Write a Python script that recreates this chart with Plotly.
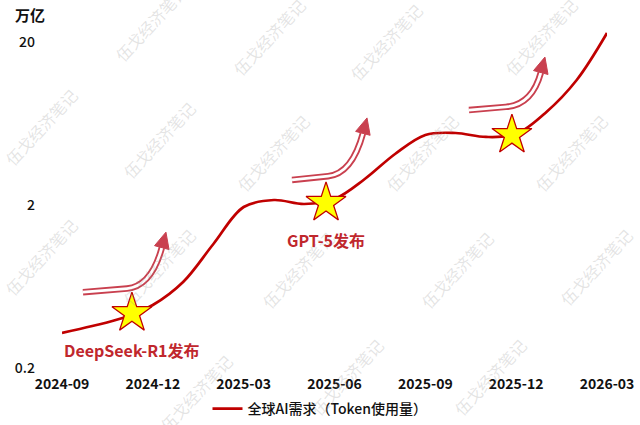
import math
import plotly.graph_objects as go

# ---- data ----
months = ["2024-09", "2024-10", "2024-11", "2024-12", "2025-01", "2025-02", "2025-03",
          "2025-04", "2025-05", "2025-06", "2025-07", "2025-08", "2025-09", "2025-10",
          "2025-11", "2025-12", "2026-01", "2026-02", "2026-03"]
demand = [0.328, 0.362, 0.405, 0.487, 0.674, 1.153, 1.944, 2.146, 2.029, 2.176,
          2.887, 4.11, 5.38, 5.53, 5.23, 5.45, 7.44, 11.69, 22.7]
event_names = ["DeepSeek-R1发布", "GPT-5发布", ""]
event_pos = [2.31, 8.72, 14.86]          # position in months from 2024-09
event_vals = [0.434, 2.06, 5.37]
tick_labels = ["2024-09", "2024-12", "2025-03", "2025-06", "2025-09", "2025-12", "2026-03"]
y_ticks = [0.2, 2, 20]
series_name = "全球AI需求（Token使用量）"
unit = "万亿"
watermark = "伍戈经济笔记"

RED = "#C00000"
ARROW = "#C9404F"
FONT = "Noto Sans CJK SC"

W, H = 640, 425
ML, MR, MT, MB = 62, 33, 20, 57
PW, PH = W - ML - MR, H - MT - MB
PL, PB = ML, H - MB          # pixel of plot left / bottom
YMIN = math.log10(0.2)
YMAX = math.log10(20) + 22 / 163

x_idx = list(range(len(months)))
tick_idx = [months.index(t) for t in tick_labels]


def px2paper(px, py):
    return (px - PL) / PW, (PB - py) / PH


fig = go.Figure()

# watermarks (paper coordinates from pixel positions)
wm_px = [(151, 23), (269, 37), (386, 42), (541, 37),
         (41, 127), (159, 140), (273, 153), (422, 153), (571, 153),
         (41, 257), (159, 267), (298, 270), (457, 270), (596, 267),
         (196, 393), (347, 377), (490, 377)]
for (px, py) in wm_px:
    xx, yy = px2paper(px, py)
    fig.add_annotation(x=xx, y=yy, xref="paper", yref="paper", xanchor="center", yanchor="middle",
                       text=watermark, showarrow=False, textangle=-47,
                       font=dict(family=FONT, size=16, color="rgba(150,150,150,0.26)"))

fig.add_trace(go.Scatter(
    x=x_idx, y=demand, mode="lines", name=series_name,
    line=dict(color=RED, width=2.7, shape="spline", smoothing=1.0),
    hoverinfo="skip"))

fig.add_trace(go.Scatter(
    x=event_pos, y=event_vals, mode="markers", showlegend=False,
    marker=dict(symbol="star", size=30, color="#FFFF00",
                line=dict(color=RED, width=1.3)),
    cliponaxis=False, hoverinfo="skip"))

# event labels below stars
for name, xp, v in zip(event_names, event_pos, event_vals):
    if name:
        fig.add_annotation(x=xp, y=math.log10(v), xref="x", yref="y", text="<b>%s</b>" % name,
                           showarrow=False, yshift=-37, xanchor="center", yanchor="middle",
                           font=dict(family=FONT, size=16, color="#C0272D"))

# decorative curved double arrows, pixel offsets from each star
arrow_start = [(-49, 21), (-34, 23), (-43, 25)]
arrow_size = [(83, 60), (75, 62), (76, 53)]
ang = math.radians(75)
ux, uy = math.cos(ang), math.sin(ang)
for (xp, v), (sx, sy), (dx, dy) in zip(zip(event_pos, event_vals), arrow_start, arrow_size):
    yfrac = (math.log10(v) - YMIN) / (YMAX - YMIN)
    tx, ty = sx + dx, sy + dy
    bx, by = tx - 16 * ux, ty - 16 * uy
    hx, hy = sx + dx - 39, sy + 0.06 * dy
    k = (by - (sy + 0.1 * dy)) / uy
    cx, cy = bx - k * ux, by - k * uy
    shaft = "M %.1f,%.1f L %.1f,%.1f Q %.1f,%.1f %.1f,%.1f" % (sx, sy, hx, hy, cx, cy, bx, by)
    px_, py_ = -uy, ux
    hw = 7.5
    head = "M %.1f,%.1f L %.1f,%.1f L %.1f,%.1f Z" % (
        tx, ty, bx + hw * px_, by + hw * py_, bx - hw * px_, by - hw * py_)
    common = dict(xref="x", yref="paper", xsizemode="pixel", ysizemode="pixel",
                  xanchor=xp, yanchor=yfrac, layer="above")
    fig.add_shape(type="path", path=shaft, line=dict(color=ARROW, width=6.5), **common)
    fig.add_shape(type="path", path=shaft, line=dict(color="white", width=2.8), **common)
    fig.add_shape(type="path", path=head, line=dict(color=ARROW, width=1),
                  fillcolor=ARROW, **common)

# unit label
ux_, uy_ = px2paper(13, 15)
fig.add_annotation(x=ux_, y=uy_, xref="paper", yref="paper",
                   xanchor="left", yanchor="middle", text=unit, showarrow=False,
                   font=dict(family=FONT, size=15, color="#111111", weight=600))

fig.update_layout(
    width=W, height=H, margin=dict(l=ML, r=MR, t=MT, b=MB, autoexpand=False),
    paper_bgcolor="white", plot_bgcolor="white",
    font=dict(family=FONT, color="#111111"),
    showlegend=True,
    legend=dict(orientation="h", xref="container", yref="container", x=0.5, y=0.0,
                xanchor="center", yanchor="bottom",
                font=dict(size=14, color="#111111", weight=500),
                itemwidth=30, bgcolor="rgba(0,0,0,0)"),
    xaxis=dict(range=[0, len(months) - 1], tickvals=tick_idx, ticktext=tick_labels,
               showgrid=False, zeroline=False, showline=False, ticks="", automargin=False,
               tickfont=dict(size=14, color="#111111", weight=600), ticklabelstandoff=6),
    yaxis=dict(type="log", range=[YMIN, YMAX], tickvals=y_ticks, ticktext=["0.2", "2", "20"],
               showgrid=False, zeroline=False, showline=False, ticks="", automargin=False,
               tickfont=dict(size=14, color="#111111", weight=500), ticklabelstandoff=26),
)

fig.write_html("out.html", config={"displayModeBar": False},
               post_script="document.body.style.margin='0';document.body.style.overflow='hidden';")
